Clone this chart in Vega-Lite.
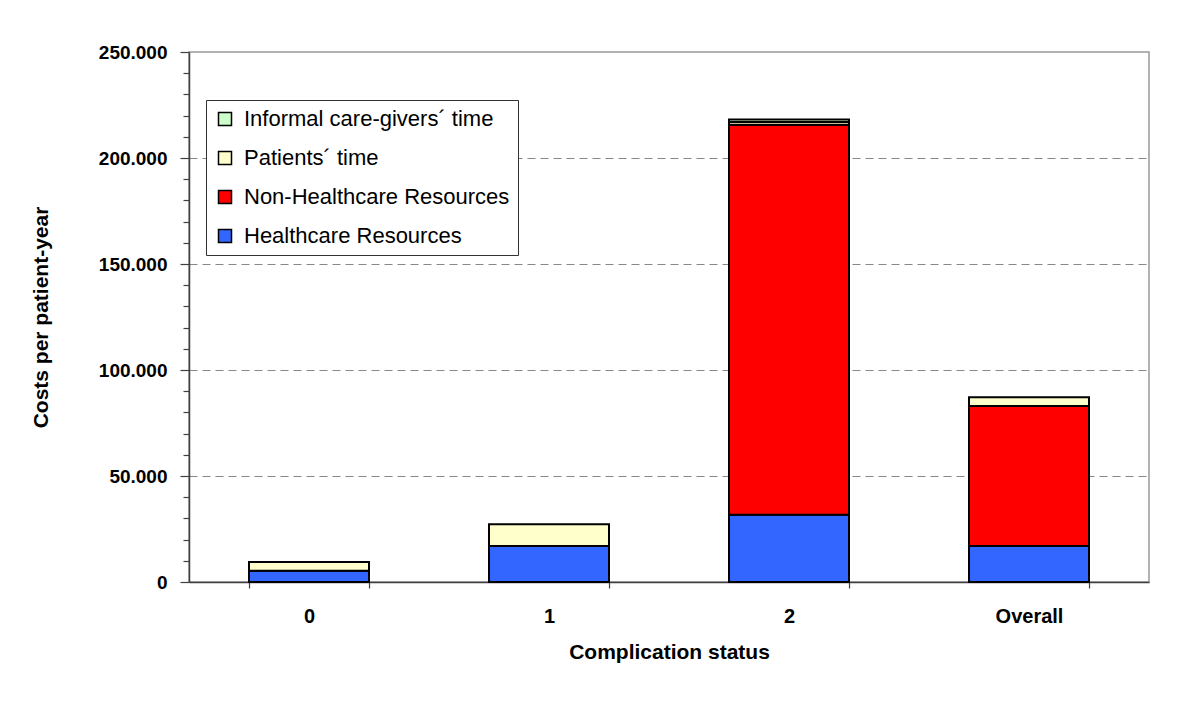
{
  "$schema": "https://vega.github.io/schema/vega-lite/v6.json",
  "width": 960,
  "height": 530,
  "autosize": {"type": "none"},
  "padding": {"left": 189, "top": 52, "right": 37, "bottom": 132},
  "background": "white",
  "config": {
    "font": "Liberation Sans",
    "view": {"stroke": "#999999", "strokeWidth": 1.5},
    "axis": {"domainColor": "#404040", "domainWidth": 1.5, "tickColor": "#404040", "tickWidth": 1.2, "labelColor": "black", "titleColor": "black"}
  },
  "data": {
    "values": [
      {"status": "0", "component": "Healthcare Resources", "stack": 1, "cost": 5300},
      {"status": "0", "component": "Patients´ time", "stack": 3, "cost": 4100},
      {"status": "1", "component": "Healthcare Resources", "stack": 1, "cost": 17000},
      {"status": "1", "component": "Patients´ time", "stack": 3, "cost": 10200},
      {"status": "2", "component": "Healthcare Resources", "stack": 1, "cost": 31700},
      {"status": "2", "component": "Non-Healthcare Resources", "stack": 2, "cost": 184000},
      {"status": "2", "component": "Patients´ time", "stack": 3, "cost": 1300},
      {"status": "2", "component": "Informal care-givers´ time", "stack": 4, "cost": 1200},
      {"status": "Overall", "component": "Healthcare Resources", "stack": 1, "cost": 17000},
      {"status": "Overall", "component": "Non-Healthcare Resources", "stack": 2, "cost": 66000},
      {"status": "Overall", "component": "Patients´ time", "stack": 3, "cost": 4100}
    ]
  },
  "mark": {"type": "bar", "stroke": "black", "strokeWidth": 2},
  "encoding": {
    "x": {
      "field": "status",
      "type": "nominal",
      "sort": ["0", "1", "2", "Overall"],
      "scale": {"paddingInner": 0.5, "paddingOuter": 0.25},
      "axis": {
        "title": "Complication status",
        "titleFontSize": 21,
        "titleFontWeight": "bold",
        "titlePadding": 15,
        "labelFontSize": 20,
        "labelFontWeight": "bold",
        "labelAngle": 0,
        "labelPadding": 18,
        "tickBand": "extent",
        "tickSize": 6,
        "grid": false
      }
    },
    "y": {
      "field": "cost",
      "type": "quantitative",
      "stack": "zero",
      "scale": {"domain": [0, 250000], "nice": false},
      "axis": {
        "title": "Costs per patient-year",
        "titleFontSize": 21,
        "titleFontWeight": "bold",
        "titlePadding": 47,
        "labelFontSize": 19,
        "labelFontWeight": "bold",
        "labelPadding": 13,
        "values": [0, 10000, 20000, 30000, 40000, 50000, 60000, 70000, 80000, 90000, 100000, 110000, 120000, 130000, 140000, 150000, 160000, 170000, 180000, 190000, 200000, 210000, 220000, 230000, 240000, 250000],
        "labelExpr": "datum.value % 50000 === 0 ? (datum.value === 0 ? '0' : replace(format(datum.value, ',d'), ',', '.')) : ''",
        "tickSize": {"condition": {"test": "datum.value % 50000 === 0", "value": 9}, "value": 6},
        "grid": true,
        "gridColor": "#888888",
        "gridDash": [8, 5],
        "gridWidth": 1,
        "gridOpacity": {"condition": {"test": "datum.value % 50000 === 0 && datum.value > 0 && datum.value < 250000", "value": 1}, "value": 0}
      }
    },
    "order": {"field": "stack", "type": "quantitative", "sort": "ascending"},
    "color": {
      "field": "component",
      "type": "nominal",
      "scale": {
        "domain": ["Informal care-givers´ time", "Patients´ time", "Non-Healthcare Resources", "Healthcare Resources"],
        "range": ["#CCFFCC", "#FFFFCC", "#FF0000", "#3366FF"]
      },
      "legend": {
        "title": null,
        "orient": "none",
        "legendX": 17,
        "legendY": 48,
        "symbolType": "square",
        "symbolSize": 169,
        "symbolStrokeColor": "black",
        "symbolStrokeWidth": 1.5,
        "labelFontSize": 22,
        "labelLimit": 500,
        "labelColor": "black",
        "labelOffset": 8,
        "rowPadding": 17,
        "padding": 8,
        "strokeColor": "#333333",
        "fillColor": "white"
      }
    }
  }
}
